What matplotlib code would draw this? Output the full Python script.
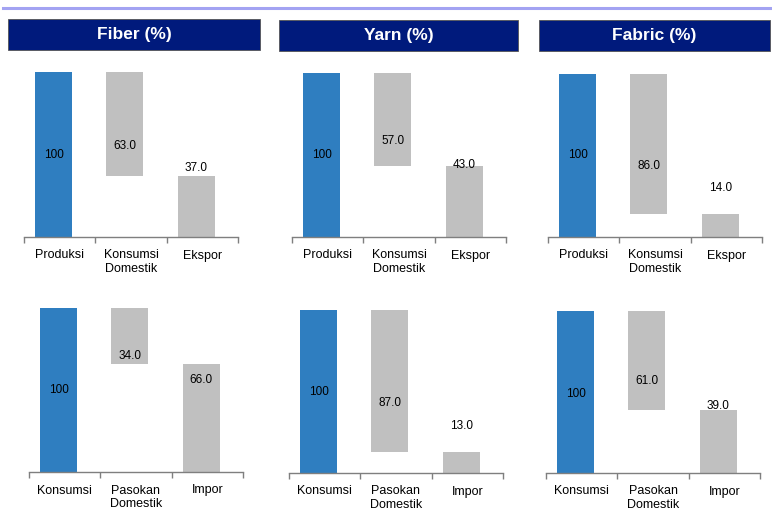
import matplotlib
matplotlib.use("Agg")
import matplotlib.pyplot as plt
from matplotlib.patches import Rectangle
from matplotlib.lines import Line2D

plt.rcParams['font.family'] = ['Liberation Sans', 'DejaVu Sans']

panel_titles = ['Fiber (%)', 'Yarn (%)', 'Fabric (%)']
top_categories = ['Produksi', 'Konsumsi\nDomestik', 'Ekspor']
bottom_categories = ['Konsumsi', 'Pasokan\nDomestik', 'Impor']

fiber_top = [100, 63.0, 37.0]
yarn_top = [100, 57.0, 43.0]
fabric_top = [100, 86.0, 14.0]
fiber_bottom = [100, 34.0, 66.0]
yarn_bottom = [100, 87.0, 13.0]
fabric_bottom = [100, 61.0, 39.0]

# label heights (data units) as placed in the original
fiber_top_lbl = [50, 55, 42]
yarn_top_lbl = [50, 58.5, 44]
fabric_top_lbl = [50, 43.5, 30]
fiber_bottom_lbl = [50, 70.7, 56]
yarn_bottom_lbl = [49.7, 43, 29]
fabric_bottom_lbl = [49, 57, 41.5]

W, H = 772, 513
fig = plt.figure(figsize=(W / 100, H / 100), dpi=100)

def rect(x0, y0, x1, y1):
    return [x0 / W, 1 - y1 / H, (x1 - x0) / W, (y1 - y0) / H]

BLUE = '#2F7EC0'
GRAY = '#C0C0C0'
NAVY = '#001A7C'

# top separator line
fig.add_artist(Line2D([3 / W, 1.0], [1 - 8 / H, 1 - 8 / H], color='#A3A3F2', lw=2.2,
                      transform=fig.transFigure))

# title boxes
title_boxes = [(8, 19, 260, 50), (279, 20, 518, 51), (539, 20, 770, 51)]
for t, (x0, y0, x1, y1) in zip(panel_titles, title_boxes):
    r = rect(x0, y0, x1, y1)
    fig.add_artist(Rectangle((r[0], r[1]), r[2], r[3], transform=fig.transFigure,
                             facecolor=NAVY, edgecolor='#555555', lw=0.6))
    fig.text(r[0] + r[2] / 2, r[1] + r[3] / 2, t, color='white', fontsize=12.5,
             fontweight='bold', ha='center', va='center')

panels = [
    ((24, 72, 238, 237), top_categories, fiber_top, fiber_top_lbl),
    ((292, 73, 506, 237), top_categories, yarn_top, yarn_top_lbl),
    ((548, 74, 762, 237), top_categories, fabric_top, fabric_top_lbl),
    ((29, 308, 243, 472), bottom_categories, fiber_bottom, fiber_bottom_lbl),
    ((289, 310, 503, 473), bottom_categories, yarn_bottom, yarn_bottom_lbl),
    ((546, 311, 760, 473), bottom_categories, fabric_bottom, fabric_bottom_lbl),
]

for (box, cats, vals, lbls) in panels:
    ax = fig.add_axes(rect(*box))
    total = vals[0]
    bottoms = [0, total - vals[1], 0]
    colors = [BLUE, GRAY, GRAY]
    xs = [i - 0.085 for i in range(3)]
    ax.bar(xs, vals, bottom=bottoms, width=0.52, color=colors, edgecolor='none')
    for i, (v, ly) in enumerate(zip(vals, lbls)):
        txt = f"{v:d}" if i == 0 else f"{v:.1f}"
        ax.text(xs[i], ly, txt, ha='center', va='center', fontsize=8.5, color='black')
    ax.set_xlim(-0.5, 2.5)
    ax.set_ylim(0, 100)
    for s in ['top', 'left', 'right']:
        ax.spines[s].set_visible(False)
    ax.spines['bottom'].set_color('#7F7F7F')
    ax.spines['bottom'].set_linewidth(1.0)
    ax.set_yticks([])
    ax.set_xticks([-0.5, 0.5, 1.5, 2.5])
    ax.set_xticklabels([])
    ax.tick_params(axis='x', which='major', direction='out', length=4, color='#7F7F7F', width=1)
    ax.set_xticks([0, 1, 2], minor=True)
    ax.set_xticklabels(cats, minor=True, fontsize=9, color='black', linespacing=1.2, va='top')
    ax.tick_params(axis='x', which='minor', length=0, pad=9)

fig.savefig('out.png', dpi=100)
